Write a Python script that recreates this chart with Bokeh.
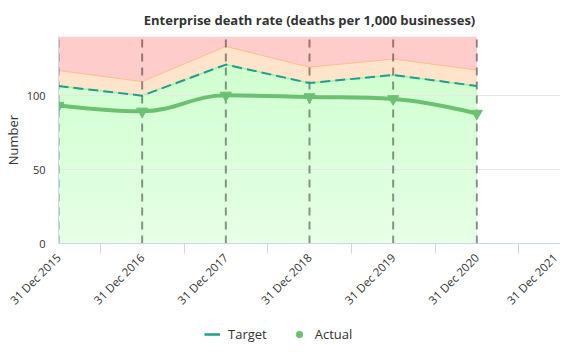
import math
import numpy as np
from bokeh.plotting import figure
from bokeh.layouts import column
from bokeh.models import (Range1d, FixedTicker, Legend, LegendItem, ColumnDataSource)
from bokeh.embed import file_html
from bokeh.resources import INLINE

# ---- data ----
categories = ["31 Dec 2015", "31 Dec 2016", "31 Dec 2017", "31 Dec 2018",
              "31 Dec 2019", "31 Dec 2020", "31 Dec 2021"]
target = [106.5, 100.0, 121.0, 108.5, 114.0, 106.5]
upper = [117.0, 109.5, 133.3, 119.2, 124.8, 117.3]
actual = [93.3, 89.4, 100.2, 99.1, 97.8, 87.9]
y_max = 140
y_ticks = [0, 50, 100]

FONT = "Open Sans"
TEAL = "#1f9e90"
GREEN = "#6cc072"
xs = np.arange(len(target), dtype=float)

p = figure(width=560, height=324, output_backend="svg",
           toolbar_location=None,
           x_range=Range1d(0, len(categories) - 1), y_range=Range1d(0, y_max),
           min_border_left=51, min_border_right=0, min_border_top=29,
           min_border_bottom=81)
p.outline_line_color = None
p.background_fill_color = "white"

p.title.text = "Enterprise death rate (deaths per 1,000 businesses)"
p.title.align = "center"
p.title.text_font = FONT
p.title.text_font_size = "13px"
p.title.text_font_style = "bold"
p.title.text_color = "#333333"
p.title.standoff = 16

# ---- bands ----
p.varea(x=xs, y1=np.array(upper), y2=np.full(len(xs), y_max),
        fill_color="#ffcccc", level="image")
p.varea(x=xs, y1=np.array(target), y2=np.array(upper),
        fill_color="#ffe4cc", level="image")
# green band with vertical gradient (fine grid along the target line)
xf = np.linspace(xs[0], xs[-1], 1001)
tf = np.interp(xf, xs, target)
n_strips = 28
edges = np.linspace(0, y_max, n_strips + 1)
top_rgb = np.array([204, 255, 204])
bot_rgb = np.array([230, 255, 230])
p.varea(x=xs, y1=np.zeros(len(xs)), y2=np.array(target),
        fill_color="#d2ffd2", level="image")
for a, b in zip(edges[:-1], edges[1:]):
    t = (a + b) / 2 / y_max
    c = bot_rgb + (top_rgb - bot_rgb) * t
    col = "#%02x%02x%02x" % tuple(int(round(v)) for v in c)
    p.varea(x=xf, y1=np.full(len(xf), a), y2=np.clip(tf, a, b + 0.2),
            fill_color=col, level="image")
p.line(xs, upper, line_color="#ffbb88", line_width=1, level="image")
p.line(xs, target, line_color="#a6f0a0", line_width=1.5, level="image")

# ---- vertical dashed lines at each period ----
p.segment(x0=xs, y0=np.zeros(len(xs)), x1=xs, y1=np.full(len(xs), y_max),
          line_color="#000000", line_alpha=0.42, line_width=2, line_dash="8 6")

# ---- target ----
p.line(xs, target, line_color=TEAL, line_width=2, line_dash="10 5")

# ---- actual: Highcharts-style spline ----
def spline_controls(x, y, smoothing=1.5):
    n = len(x)
    lc = [(x[i], y[i]) for i in range(n)]
    rc = [(x[i], y[i]) for i in range(n)]
    denom = smoothing + 1
    for i in range(1, n - 1):
        px, py = x[i], y[i]
        lx, ly = x[i - 1], y[i - 1]
        nx, ny = x[i + 1], y[i + 1]
        lcx = (smoothing * px + lx) / denom
        lcy = (smoothing * py + ly) / denom
        rcx = (smoothing * px + nx) / denom
        rcy = (smoothing * py + ny) / denom
        corr = ((rcy - lcy) * (rcx - px)) / (rcx - lcx) + py - rcy
        lcy += corr
        rcy += corr
        if lcy > ly and lcy > py:
            lcy = max(ly, py); rcy = 2 * py - lcy
        elif lcy < ly and lcy < py:
            lcy = min(ly, py); rcy = 2 * py - lcy
        if rcy > ny and rcy > py:
            rcy = max(ny, py); lcy = 2 * py - rcy
        elif rcy < ny and rcy < py:
            rcy = min(ny, py); lcy = 2 * py - rcy
        lc[i] = (lcx, lcy)
        rc[i] = (rcx, rcy)
    return lc, rc

lc, rc = spline_controls(list(xs), actual)
bz = ColumnDataSource(dict(
    x0=xs[:-1], y0=actual[:-1], x1=xs[1:], y1=actual[1:],
    cx0=[rc[i][0] for i in range(len(xs) - 1)],
    cy0=[rc[i][1] for i in range(len(xs) - 1)],
    cx1=[lc[i + 1][0] for i in range(len(xs) - 1)],
    cy1=[lc[i + 1][1] for i in range(len(xs) - 1)],
))
p.bezier(x0="x0", y0="y0", x1="x1", y1="y1", cx0="cx0", cy0="cy0",
         cx1="cx1", cy1="cy1", source=bz, line_color=GREEN, line_width=4)
p.scatter(xs, actual, marker="inverted_triangle", size=11,
          fill_color=GREEN, line_color=GREEN)

# ---- axes ----
p.xgrid.visible = False
p.ygrid.ticker = FixedTicker(ticks=y_ticks)
p.ygrid.grid_line_color = "#e6e6e6"
p.ygrid.grid_line_width = 1

xa = p.xaxis[0]
xa.ticker = FixedTicker(ticks=list(range(len(categories))),
                        minor_ticks=[i + 0.5 for i in range(len(categories) - 1)])
xa.major_label_overrides = {i: c for i, c in enumerate(categories)}
xa.major_label_orientation = math.pi / 4
xa.major_tick_out = 0
xa.major_tick_in = 0
xa.minor_tick_out = 10
xa.minor_tick_in = 0
xa.minor_tick_line_color = "#ccd6eb"
xa.axis_line_color = "#ccd6eb"
xa.major_label_text_font = FONT
xa.major_label_text_font_size = "11.5px"
xa.major_label_text_color = "#333333"
xa.major_label_standoff = 2

ya = p.yaxis[0]
ya.ticker = FixedTicker(ticks=y_ticks)
ya.major_tick_out = 0
ya.major_tick_in = 0
ya.minor_tick_line_color = None
ya.axis_line_color = "#ccd6eb"
ya.major_label_text_font = FONT
ya.major_label_text_font_size = "11px"
ya.major_label_text_color = "#333333"
ya.major_label_standoff = 13
ya.axis_label = "Number"
ya.axis_label_text_font = FONT
ya.axis_label_text_font_size = "13px"
ya.axis_label_text_font_style = "normal"
ya.axis_label_text_color = "#333333"
ya.axis_label_standoff = 2

# ---- legend (separate strip below the chart) ----
lf = figure(width=560, height=20, output_backend="svg", toolbar_location=None,
            x_range=Range1d(0, 1), y_range=Range1d(0, 1),
            x_axis_location=None, y_axis_location=None, min_border=0)
lf.outline_line_color = None
lf.xgrid.visible = False
lf.ygrid.visible = False
leg_t = lf.line([-10, -9], [-10, -10], line_color=TEAL, line_width=2.5)
leg_a = lf.scatter([-10], [-10], marker="circle", size=14, fill_color=GREEN,
                   line_color=GREEN)
legend = Legend(items=[LegendItem(label="Target", renderers=[leg_t]),
                       LegendItem(label="Actual", renderers=[leg_a])],
                orientation="horizontal", location=(146, 0),
                border_line_color=None, background_fill_alpha=0,
                label_text_font=FONT, label_text_font_size="13px",
                label_text_color="#333333", glyph_width=16, spacing=24,
                label_standoff=8, margin=0, padding=1)
lf.add_layout(legend, "center")

layout = column(p, lf, spacing=0)
open("out.html", "w").write(file_html(layout, INLINE))
